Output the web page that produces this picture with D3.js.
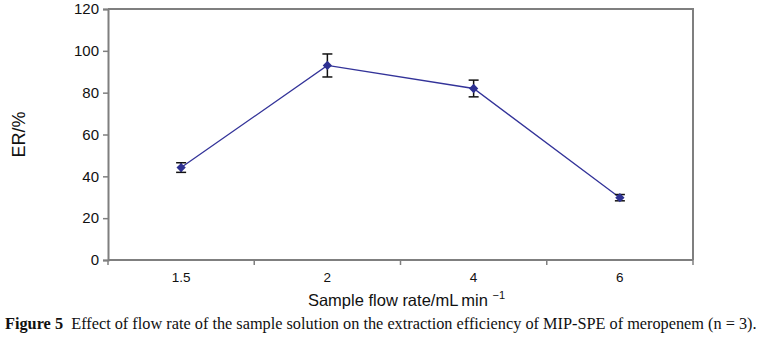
<!DOCTYPE html>
<html>
<head>
<meta charset="utf-8">
<script src="https://cdn.jsdelivr.net/npm/d3@7"></script>
<style>
  body { margin: 0; background: #fff; }
  svg { display: block; }
</style>
</head>
<body>
<div id="content"></div>
<script>
// data
const rates = ["1.5", "2", "4", "6"];
const erValues = [44.2, 93, 82, 29.8];
const erErrors = [2.3, 5.5, 4, 1.5];
const yTicks = [0, 20, 40, 60, 80, 100, 120];

const W = 764, H = 346;
const margin = { left: 108, right: 71, top: 9, bottom: 86 };
const iW = W - margin.left - margin.right;
const iH = H - margin.top - margin.bottom;

const data = rates.map((r, i) => ({ rate: r, er: erValues[i], err: erErrors[i] }));

const xScale = d3.scaleBand()
  .domain(rates)
  .range([0, iW]);

const yScale = d3.scaleLinear()
  .domain([0, 120])
  .range([iH, 0]);

const svg = d3.select("#content")
  .append("svg")
  .attr("width", W)
  .attr("height", H);

const diagram = svg.append("g")
  .attr("transform", "translate(" + margin.left + "," + margin.top + ")");

const axisColor = "#7f7f7f";

// frame: top and right edges
diagram.append("path")
  .attr("d", "M0,0H" + iW + "V" + iH)
  .attr("fill", "none")
  .attr("stroke", axisColor)
  .attr("stroke-width", 2);

// x axis, ticks sit on the category boundaries
const xAxis = diagram.append("g")
  .attr("transform", "translate(0," + iH + ")");
xAxis.append("line")
  .attr("x1", 0).attr("x2", iW)
  .attr("stroke", axisColor).attr("stroke-width", 2);
xAxis.selectAll(".xtick")
  .data(rates.concat([null]))
  .enter().append("line")
  .attr("class", "xtick")
  .attr("x1", (d, i) => i * xScale.step())
  .attr("x2", (d, i) => i * xScale.step())
  .attr("y1", 0).attr("y2", 5)
  .attr("stroke", axisColor).attr("stroke-width", 1.5);
xAxis.selectAll(".xlab")
  .data(rates)
  .enter().append("text")
  .attr("class", "xlab")
  .attr("x", d => xScale(d) + xScale.bandwidth() / 2)
  .attr("y", 22)
  .attr("text-anchor", "middle")
  .attr("font-family", "Liberation Sans, Arial, sans-serif")
  .attr("font-size", 13.5)
  .attr("fill", "#111")
  .text(d => d);

// y axis
const yAxis = diagram.append("g")
  .call(d3.axisLeft(yScale).tickValues(yTicks).tickSize(5).tickPadding(4));
yAxis.select(".domain").attr("stroke", axisColor).attr("stroke-width", 2);
yAxis.selectAll(".tick line").attr("stroke", axisColor).attr("stroke-width", 1.5);
yAxis.selectAll(".tick text")
  .attr("font-family", "Liberation Sans, Arial, sans-serif")
  .attr("font-size", 15)
  .attr("fill", "#111");

// line
const lineColor = "#333399";
const cx = d => xScale(d.rate) + xScale.bandwidth() / 2;
diagram.append("path")
  .datum(data)
  .attr("d", d3.line().x(cx).y(d => yScale(d.er)))
  .attr("fill", "none")
  .attr("stroke", lineColor)
  .attr("stroke-width", 1.3);

// error bars
const bars = diagram.selectAll(".err").data(data).enter().append("g")
  .attr("class", "err")
  .attr("stroke", "#111")
  .attr("stroke-width", 1.5);
bars.append("line")
  .attr("x1", cx).attr("x2", cx)
  .attr("y1", d => yScale(d.er + d.err))
  .attr("y2", d => yScale(d.er - d.err));
bars.append("line")
  .attr("x1", d => cx(d) - 5).attr("x2", d => cx(d) + 5)
  .attr("y1", d => yScale(d.er + d.err)).attr("y2", d => yScale(d.er + d.err));
bars.append("line")
  .attr("x1", d => cx(d) - 5).attr("x2", d => cx(d) + 5)
  .attr("y1", d => yScale(d.er - d.err)).attr("y2", d => yScale(d.er - d.err));

// diamond markers
diagram.selectAll(".dot").data(data).enter()
  .append("path")
  .attr("class", "dot")
  .attr("d", d3.symbol().type(d3.symbolDiamond2).size(55))
  .attr("transform", d => "translate(" + cx(d) + "," + yScale(d.er) + ")")
  .attr("fill", "#2e3192");

// axis titles
svg.append("text")
  .attr("x", margin.left + iW / 2 + 6)
  .attr("y", 306)
  .attr("text-anchor", "middle")
  .attr("font-family", "Liberation Sans, Arial, sans-serif")
  .attr("font-size", 16.5)
  .attr("fill", "#111")
  .html('Sample flow rate/mL<tspan dx="3">min</tspan> <tspan font-size="11" dy="-7">\u22121</tspan>');

svg.append("text")
  .attr("transform", "translate(25," + (margin.top + iH / 2) + ") rotate(-90)")
  .attr("text-anchor", "middle")
  .attr("font-family", "Liberation Sans, Arial, sans-serif")
  .attr("font-size", 18)
  .attr("fill", "#111")
  .text("ER/%");

// caption
const cap = svg.append("text")
  .attr("x", 5)
  .attr("y", 329)
  .attr("font-family", "Liberation Serif, Times New Roman, serif")
  .attr("font-size", 16.3)
  .attr("fill", "#111");
cap.append("tspan").attr("font-weight", "bold").text("Figure 5");
cap.append("tspan").text("\u2002Effect of flow rate of the sample solution on the extraction efficiency of MIP-SPE of meropenem (n = 3).");
</script>
</body>
</html>
